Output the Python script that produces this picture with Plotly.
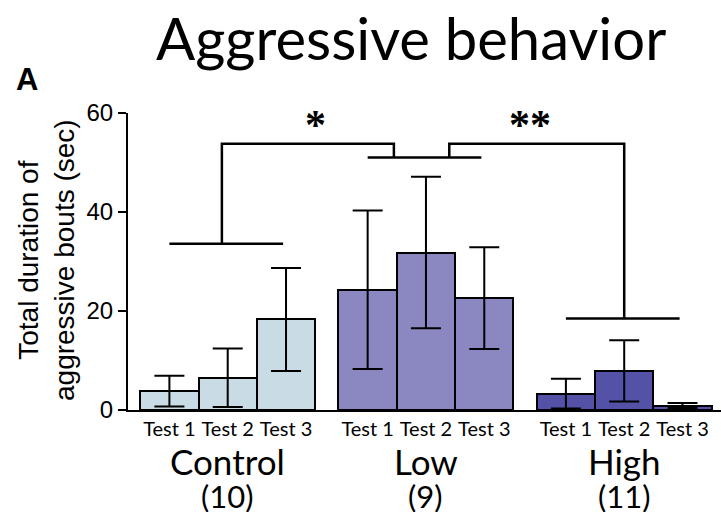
import plotly.graph_objects as go

# Aggressive behaviour: mean total duration (sec) with error bars per group and test
groups = ["Control", "Low", "High"]
group_n = ["(10)", "(9)", "(11)"]
tests = ["Test 1", "Test 2", "Test 3"]

control_mean = [3.8, 6.5, 18.3]
control_err = [3.1, 5.9, 10.4]
low_mean = [24.3, 31.8, 22.6]
low_err = [16.0, 15.3, 10.3]
high_mean = [3.3, 7.9, 0.9]
high_err = [3.0, 6.2, 0.5]

group_colors = ["#C9DCE5", "#8B87C0", "#5352A6"]

# significance brackets: group-level bar heights, top connector level, labels
group_bracket_level = [33.6, 51.0, 18.5]
connector_level = 53.8
sig_labels = ["*", "**"]

means = [control_mean, low_mean, high_mean]
errs = [control_err, low_err, high_err]

group_gap = 0.4
positions = []
for gi in range(len(groups)):
    positions.append([gi * (len(tests) + group_gap) + ti for ti in range(len(tests))])
centers = [sum(p) / len(p) for p in positions]

fig = go.Figure()
for gi, g in enumerate(groups):
    fig.add_trace(go.Bar(
        x=positions[gi], y=means[gi], width=1.0, name=g,
        marker=dict(color=group_colors[gi], line=dict(color="black", width=2)),
        error_y=dict(type="data", array=errs[gi], visible=True,
                     color="black", thickness=2, width=15),
        showlegend=False,
    ))

line_style = dict(color="black", width=2.5)
shapes = []
# horizontal bar over each group
for gi in range(len(groups)):
    shapes.append(dict(type="line", xref="x", yref="y",
                       x0=centers[gi] - 1.0, x1=centers[gi] + 0.95,
                       y0=group_bracket_level[gi], y1=group_bracket_level[gi],
                       line=line_style))

# connectors Control -> Low and Low -> High
a_x = centers[0] - 0.1
b_x = centers[1] - 0.55
c_x = centers[1] + 0.4
d_x = centers[2]
for (x0, x1, lvl0) in [(a_x, b_x, (group_bracket_level[0], group_bracket_level[1])),
                       (c_x, d_x, (group_bracket_level[1], group_bracket_level[2]))]:
    shapes.append(dict(type="path", xref="x", yref="y",
                       path=f"M {x0},{lvl0[0]} L {x0},{connector_level} L {x1},{connector_level} L {x1},{lvl0[1]}",
                       line=line_style))

annotations = []
for lbl, (x0, x1), dx in zip(sig_labels, [(a_x, b_x), (c_x, d_x)], [0.13, -0.11]):
    annotations.append(dict(x=(x0 + x1) / 2 + dx, y=57.6, xref="x", yref="y", text=f"<b>{lbl}</b>",
                            showarrow=False, yanchor="middle",
                            font=dict(family="Liberation Serif", size=42, color="black")))

for gi in range(len(groups)):
    annotations.append(dict(x=centers[gi], y=-0.173, xref="x", yref="paper", text=groups[gi],
                            showarrow=False, yanchor="middle",
                            font=dict(family="Lato", size=35, color="black")))
    annotations.append(dict(x=centers[gi], y=-0.29, xref="x", yref="paper", text=group_n[gi],
                            showarrow=False, yanchor="middle",
                            font=dict(family="Lato", size=31, color="black")))

# y-axis title
annotations.append(dict(x=46, y=260, text="Total duration of<br>aggressive bouts (sec)",
                        showarrow=False, textangle=-90,
                        font=dict(family="Liberation Sans", size=28, color="black")))
# panel letter
annotations.append(dict(x=27, y=79, text="<b>A</b>", showarrow=False,
                        font=dict(family="Liberation Sans", size=31, color="black")))
# title
annotations.append(dict(x=411, y=38, text="Aggressive behavior", showarrow=False,
                        font=dict(family="Lato", size=58, color="black")))

# convert pixel-placed annotations (y-title, panel letter, title) to paper coordinates
W, H = 721, 512
ML, MR, MT, MB = 128, 0, 113, 102
pw, ph = W - ML - MR, H - MT - MB
for ann in annotations[-3:]:
    ann["xref"] = "paper"
    ann["yref"] = "paper"
    ann["x"] = (ann["x"] - ML) / pw
    ann["y"] = (H - MB - ann["y"]) / ph
    ann["xanchor"] = "center"
    ann["yanchor"] = "middle"

tick_pos = [p for grp in positions for p in grp]
tick_txt = tests * len(groups)

fig.update_layout(
    width=W, height=H,
    margin=dict(l=ML, r=MR, t=MT, b=MB),
    paper_bgcolor="white", plot_bgcolor="white",
    shapes=shapes, annotations=annotations,
    bargap=0,
    xaxis=dict(range=[-0.71, 9.46], showline=True, linecolor="black", linewidth=2,
               tickvals=tick_pos, ticktext=tick_txt, ticks="", showgrid=False, zeroline=False,
               tickfont=dict(family="Lato", size=20, color="black")),
    yaxis=dict(range=[0, 60], showline=True, linecolor="black", linewidth=2,
               tickvals=[0, 20, 40, 60], ticks="outside", ticklen=8, tickwidth=2, tickcolor="black",
               showgrid=False, zeroline=False,
               tickfont=dict(family="Liberation Sans", size=24, color="black")),
)

fig.write_html("out.html")
